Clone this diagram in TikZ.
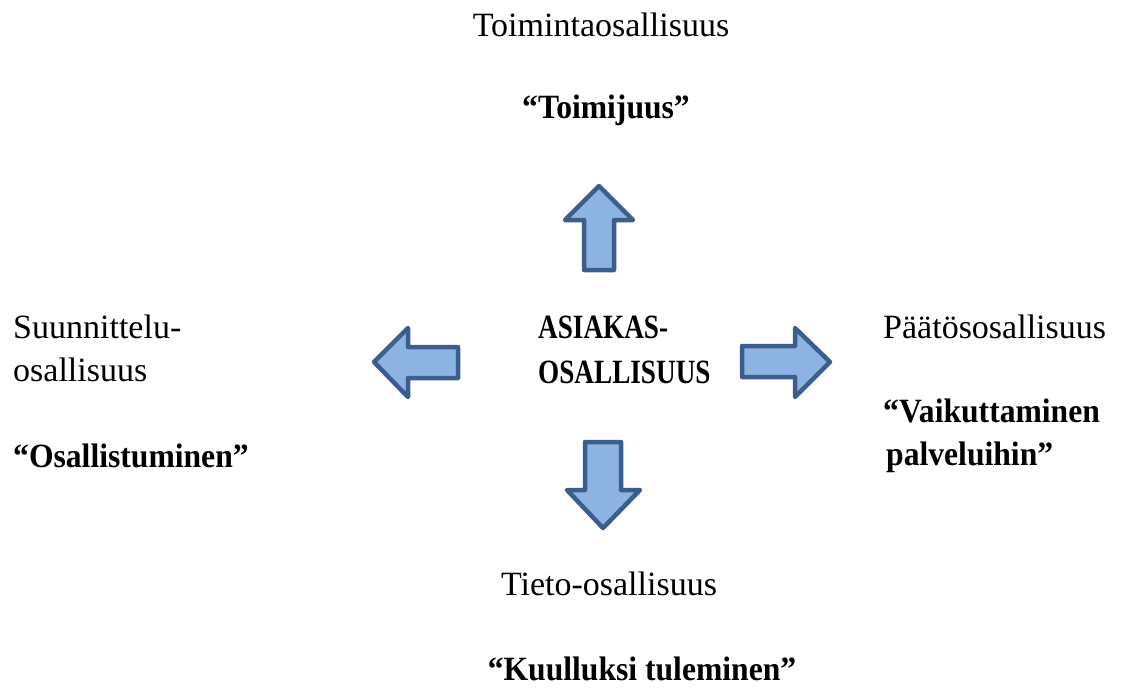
\documentclass[tikz,border=0pt]{standalone}
\usepackage{fontspec}
\setmainfont{Liberation Serif}
\newfontfamily\boldlow[FakeStretch=0.93]{Liberation Serif}
\newfontfamily\boldcaps[FakeStretch=0.80]{Liberation Serif}
\definecolor{arrfill}{HTML}{8DB3E2}
\definecolor{arrline}{HTML}{3B5E8C}
\tikzset{
  txt/.style={inner sep=0pt, font=\fontsize{34}{43}\selectfont},
  btxt/.style={inner sep=0pt, font=\fontsize{34}{43}\selectfont\boldlow\bfseries},
  ctxt/.style={inner sep=0pt, font=\fontsize{34}{43}\selectfont\boldcaps\bfseries},
  blockarrow/.style={fill=arrfill, draw=arrline, line width=4.5pt, line join=round}
}
\begin{document}
\begin{tikzpicture}[x=1pt,y=-1pt]
\useasboundingbox (0,0) rectangle (1121,689);
% texts
\node[txt, anchor=base] (top1) at (601,36) {Toimintaosallisuus};
\node[btxt, anchor=base] (top2) at (606,118) {“Toimijuus”};
\node[txt, anchor=base west] (l1) at (13,338) {Suunnittelu-};
\node[txt, anchor=base west] (l2) at (13,381) {osallisuus};
\node[btxt, anchor=base west] (l3) at (13,467) {“Osallistuminen”};
\node[ctxt, anchor=base west] (c1) at (538,338) {ASIAKAS-};
\node[ctxt, anchor=base west] (c2) at (538,383) {OSALLISUUS};
\node[txt, anchor=base west] (r1) at (883,338) {Päätösosallisuus};
\node[btxt, anchor=base west] (r2) at (883,422) {“Vaikuttaminen};
\node[btxt, anchor=base west] (r3) at (886,465) {palveluihin”};
\node[txt, anchor=base] (b1) at (609,595) {Tieto-osallisuus};
\node[btxt, anchor=base] (b2) at (642,680) {“Kuulluksi tuleminen”};
% block arrows
\draw[blockarrow] (599,186) -- (633,220) -- (614,220) -- (614,270) -- (584,270) -- (584,220) -- (565,220) -- cycle;
\draw[blockarrow] (374,362) -- (408,328) -- (408,347) -- (458,347) -- (458,378) -- (408,378) -- (408,397) -- cycle;
\draw[blockarrow] (830,362) -- (795,328) -- (795,346) -- (742,346) -- (742,377) -- (795,377) -- (795,397) -- cycle;
\draw[blockarrow] (603,528) -- (640,490) -- (621,490) -- (621,442) -- (585,442) -- (585,490) -- (567,490) -- cycle;
\end{tikzpicture}
\end{document}
